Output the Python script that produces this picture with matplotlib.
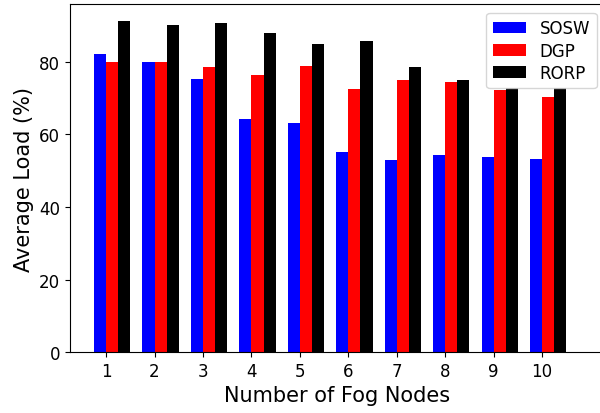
import numpy as np
import matplotlib
matplotlib.use("Agg")
import matplotlib.pyplot as plt

# average load per number of fog nodes
nodes = [1, 2, 3, 4, 5, 6, 7, 8, 9, 10]
sosw = [82.1, 79.9, 75.2, 64.2, 63.1, 55.1, 52.9, 54.3, 53.8, 53.2]
dgp = [79.9, 79.9, 78.5, 76.3, 78.8, 72.5, 74.9, 74.4, 72.2, 70.3]
rorp = [91.2, 90.1, 90.6, 87.9, 84.9, 85.7, 78.5, 75.0, 72.8, 72.8]

w = 0.25
x = np.array(nodes)

fig = plt.figure(figsize=(6, 4.14), dpi=100)
ax = fig.add_axes([0.1167, 0.147, 0.8917, 0.84])

ax.bar(x - w / 2, sosw, w, color="blue", label="SOSW")
ax.bar(x + w / 2, dgp, w, color="red", label="DGP")
ax.bar(x + 3 * w / 2, rorp, w, color="black", label="RORP")

ax.set_xticks(x)
ax.set_xlim(0.255, 11.3)
ax.tick_params(labelsize=12)
ax.set_xlabel("Number of Fog Nodes", fontsize=15)
ax.set_ylabel("Average Load (%)", fontsize=15)
ax.legend(loc="upper right", fontsize=12, labelspacing=0.25)

fig.savefig("out.png", dpi=100)
